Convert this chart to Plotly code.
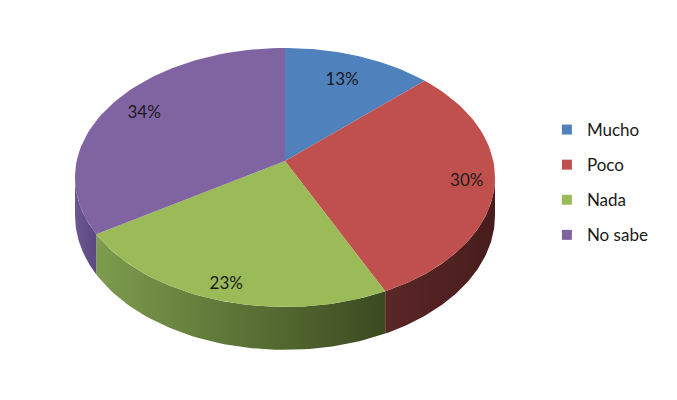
"""3D-style pie chart (Excel look) built from filled scatter polygons."""
import math

import plotly.graph_objects as go

# data
labels = ['Mucho', 'Poco', 'Nada', 'No sabe']
values = [13, 30, 23, 34]

# styles
top_colors = ['#4F81BD', '#C0504D', '#9BBB59', '#8064A2']
side_colors = [
    ('#3c6496', '#2f5180'),
    ('#5a2727', '#481c1c'),
    ('#7d9c4d', '#3b4a20'),
    ('#6c5690', '#5b4880'),
]
label_r = [0.75, 0.87, 0.90, 0.81]

# projection of the pie disc (pixel space of the page, y down)
CX, CY = 285, 161      # apex of the pie
A, B = 208.3, 127.4    # horizontal / depth radius
K = 0.127              # perspective factor
DEPTH = 37.5           # thickness of the pie
OFFSET = 8             # page body margin


def project(theta_deg, r=1.0):
    t = math.radians(theta_deg)
    u, v = r * math.sin(t), r * math.cos(t)
    d = 1 + K * v
    return CX + A * u / d, CY - B * v / d


def bottom(theta_deg):
    x, y = project(theta_deg)
    return x, y + DEPTH / (1 + K * math.cos(math.radians(theta_deg)))


def arc(a, b, n=60):
    return [a + (b - a) * i / n for i in range(n + 1)]


total = sum(values)
bounds = [0]
for v in values:
    bounds.append(bounds[-1] + 360 * v / total)

sil = math.degrees(math.acos(-K))  # silhouette angles of the rim
vis_lo, vis_hi = sil, 360 - sil

fig = go.Figure()

# outer walls
for i in range(len(values)):
    a, b = max(bounds[i], vis_lo), min(bounds[i + 1], vis_hi)
    if b <= a:
        continue
    angs = arc(a, b)
    pts = [project(t) for t in angs] + [bottom(t) for t in reversed(angs)]
    fig.add_trace(go.Scatter(
        x=[p[0] for p in pts], y=[p[1] for p in pts],
        mode='lines', fill='toself', line=dict(width=0),
        fillgradient=dict(type='horizontal',
                          colorscale=[[0, side_colors[i][0]], [1, side_colors[i][1]]]),
        hoverinfo='skip', showlegend=False))

# top faces
for i in range(len(values)):
    pts = [(CX, CY)] + [project(t) for t in arc(bounds[i], bounds[i + 1])]
    fig.add_trace(go.Scatter(
        x=[p[0] for p in pts], y=[p[1] for p in pts],
        mode='lines', fill='toself', fillcolor=top_colors[i], line=dict(width=0),
        hovertemplate=labels[i] + ': %{text}<extra></extra>',
        text=[f'{values[i]}%'] * len(pts), showlegend=False))

# percentage labels
lx, ly, lt = [], [], []
for i in range(len(values)):
    x, y = project((bounds[i] + bounds[i + 1]) / 2, label_r[i])
    lx.append(x)
    ly.append(y)
    lt.append(f'{values[i]}%')
fig.add_trace(go.Scatter(x=lx, y=ly, text=lt, mode='text',
                         textfont=dict(family='Lato', size=17, color='#1a1a1a'),
                         hoverinfo='skip', showlegend=False))

# legend entries
for i, name in enumerate(labels):
    fig.add_trace(go.Scatter(x=[None], y=[None], mode='markers', name=name,
                             legendgroup=name,
                             marker=dict(symbol='square', size=10, color=top_colors[i])))

fig.update_layout(
    width=677, height=400,
    margin=dict(l=0, r=0, t=0, b=0),
    paper_bgcolor='white', plot_bgcolor='white',
    xaxis=dict(range=[OFFSET, 677 + OFFSET], visible=False, fixedrange=True),
    yaxis=dict(range=[400 + OFFSET, OFFSET], visible=False, fixedrange=True),
    legend=dict(x=0.796, y=0.74, xanchor='left', yanchor='top',
                font=dict(family='Lato', size=17, color='#1a1a1a'),
                tracegroupgap=10, itemwidth=30, bgcolor='rgba(0,0,0,0)'),
    showlegend=True,
)

fig.write_html("out.html")
